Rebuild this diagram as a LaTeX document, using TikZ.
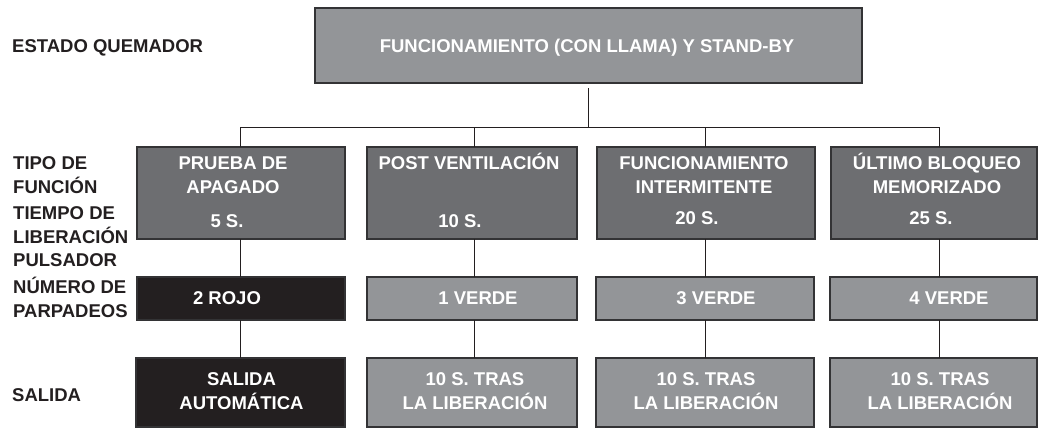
\documentclass[tikz,border=0pt]{standalone}
\usepackage{fontspec}
\setmainfont{Liberation Sans}
\definecolor{lightbox}{HTML}{939598}
\definecolor{darkbox}{HTML}{6D6E71}
\definecolor{blackbox}{HTML}{231F20}
\definecolor{ink}{HTML}{231F20}
\definecolor{edge}{HTML}{333335}
\newcommand{\linesof}[2]{\begin{tabular}[t]{@{}#1@{}}#2\end{tabular}}
\begin{document}
\begin{tikzpicture}[x=1pt,y=-1pt,
  box/.style={draw=edge, line width=1.2pt, inner sep=0pt, outer sep=0pt, anchor=north west},
  topbox/.style={box, fill=lightbox, minimum width=547pt, minimum height=75pt},
  typebox/.style={box, fill=darkbox, minimum height=92pt},
  flashbox/.style={box, fill=lightbox, minimum height=43pt},
  outbox/.style={box, fill=lightbox, minimum height=69pt},
  redflash/.style={box, fill=blackbox, minimum height=43pt},
  redout/.style={box, fill=blackbox, minimum height=69pt},
  intext/.style={text=white, anchor=base, inner sep=0pt, font=\bfseries\fontsize{18.5}{23.5}\selectfont},
  lbl/.style={text=ink, anchor=base west, inner sep=0pt, font=\bfseries\fontsize{18.5}{23.5}\selectfont},
  conn/.style={draw=ink, line width=1pt}
]
\useasboundingbox (0,0) rectangle (1038,428);

% boxes
\node[topbox] (top) at (315,8) {};
\node[typebox, minimum width=208pt] (b1) at (137,147) {};
\node[typebox, minimum width=210pt] (b2) at (367,147) {};
\node[typebox, minimum width=218pt] (b3) at (597,147) {};
\node[typebox, minimum width=206pt] (b4) at (831,147) {};
\node[redflash, minimum width=208pt] (f1) at (137,277) {};
\node[flashbox, minimum width=210pt] (f2) at (367,277) {};
\node[flashbox, minimum width=218pt] (f3) at (596,277) {};
\node[flashbox, minimum width=207pt] (f4) at (830,277) {};
\node[redout, minimum width=209pt] (o1) at (136,358) {};
\node[outbox, minimum width=210pt] (o2) at (367,358) {};
\node[outbox, minimum width=218pt] (o3) at (596,358) {};
\node[outbox, minimum width=207pt] (o4) at (830,358) {};

% connectors
\coordinate (c1) at (240,127);
\coordinate (c2) at (474,127);
\coordinate (c3) at (705,127);
\coordinate (c4) at (939,127);
\draw[conn, shorten <=5pt] (top.south) -- (top.south |- c1);
\draw[conn] (c1) -- (c4);
\foreach \i in {1,2,3,4} {
  \draw[conn] (c\i) -- (c\i |- b\i.north);
  \draw[conn] (c\i |- b\i.south) -- (c\i |- f\i.north);
  \draw[conn] (c\i |- f\i.south) -- (c\i |- o\i.north);
}

% texts in boxes
\node[intext] (ttop) at (587,52.6) {FUNCIONAMIENTO (CON LLAMA) Y STAND-BY};
\node[intext] (tb1) at (233,169.6) {\linesof{c}{PRUEBA DE\\APAGADO}};
\node[intext] (tb2) at (469,169.6) {POST VENTILACIÓN};
\node[intext] (tb3) at (704,169.6) {\linesof{c}{FUNCIONAMIENTO\\INTERMITENTE}};
\node[intext] (tb4) at (937,169.6) {\linesof{c}{ÚLTIMO BLOQUEO\\MEMORIZADO}};
\node[intext] (ts1) at (227,227.6) {5 S.};
\node[intext] (ts2) at (460,227.6) {10 S.};
\node[intext] (ts3) at (697,224.6) {20 S.};
\node[intext] (ts4) at (931,224.6) {25 S.};
\node[intext] (tf1) at (227,304.6) {2 ROJO};
\node[intext] (tf2) at (478,304.6) {1 VERDE};
\node[intext] (tf3) at (716,304.6) {3 VERDE};
\node[intext] (tf4) at (949,304.6) {4 VERDE};
\node[intext] (to1) at (241.5,385.6) {\linesof{c}{SALIDA\\AUTOMÁTICA}};
\node[intext] (to2) at (475,385.6) {\linesof{c}{10 S. TRAS\\LA LIBERACIÓN}};
\node[intext] (to3) at (706,385.6) {\linesof{c}{10 S. TRAS\\LA LIBERACIÓN}};
\node[intext] (to4) at (940,385.6) {\linesof{c}{10 S. TRAS\\LA LIBERACIÓN}};

% row labels
\node[lbl] (l1) at (12,52.6) {ESTADO QUEMADOR};
\node[lbl] (l2) at (13,169.6) {\linesof{l}{TIPO DE\\FUNCIÓN}};
\node[lbl] (l3) at (13,219.6) {\linesof{l}{TIEMPO DE\\LIBERACIÓN\\PULSADOR}};
\node[lbl] (l4) at (13,293.6) {\linesof{l}{NÚMERO DE\\PARPADEOS}};
\node[lbl] (l5) at (12,401.6) {SALIDA};
\end{tikzpicture}
\end{document}
